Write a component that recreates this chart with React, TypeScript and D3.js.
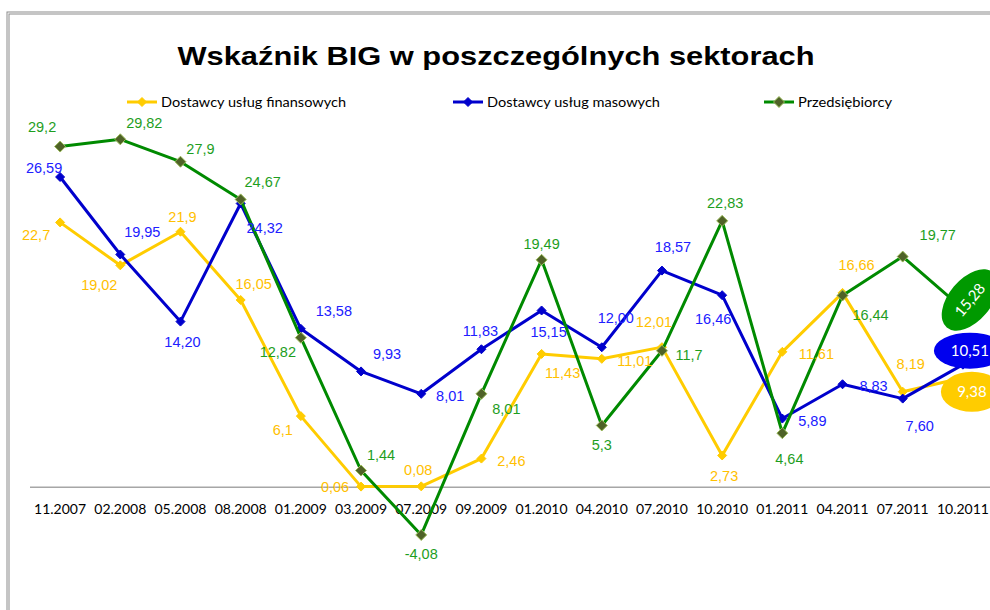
import React from "react";
import * as d3 from "d3";

// ---- Data ----
const categories = [
  "11.2007", "02.2008", "05.2008", "08.2008", "01.2009", "03.2009", "07.2009", "09.2009",
  "01.2010", "04.2010", "07.2010", "10.2010", "01.2011", "04.2011", "07.2011", "10.2011",
];
const finansowych = [22.7, 19.02, 21.9, 16.05, 6.1, 0.06, 0.08, 2.46, 11.43, 11.01, 12.01, 2.73, 11.61, 16.66, 8.19, 9.38];
const masowych = [26.59, 19.95, 14.2, 24.32, 13.58, 9.93, 8.01, 11.83, 15.15, 12.0, 18.57, 16.46, 5.89, 8.83, 7.6, 10.51];
const przedsiebiorcy = [29.2, 29.82, 27.9, 24.67, 12.82, 1.44, -4.08, 8.01, 19.49, 5.3, 11.7, 22.83, 4.64, 16.44, 19.77, 15.28];
const seriesNames = ["Dostawcy usług finansowych", "Dostawcy usług masowych", "Przedsiębiorcy"];
const title = "Wskaźnik BIG w poszczególnych sektorach";

// ---- Layout (label offsets from each point, px) ----
const offFin: [number, number][] = [
  [-24, 13], [-21, 20], [2, -15], [13, -16], [-18, 14], [-26, 0], [-3, -16], [30, 2],
  [21, 19], [33, 2], [-8, -25], [2, 20], [34, 2], [14, -28], [8, -28], [0, 0],
];
const offMas: [number, number][] = [
  [-16, -9], [22, -23], [2, 20], [24, 24], [33, -18], [26, -17], [29, 2], [-1, -18],
  [7, 21], [14, -29], [11, -24], [-9, 24], [30, 2], [31, 2], [17, 27], [0, 0],
];
const offPrz: [number, number][] = [
  [-18, -20], [24, -16], [20, -13], [22, -17], [-23, 14], [20, -16], [0, 19], [25, 15],
  [0, -16], [0, 19], [27, 4], [3, -18], [7, 26], [28, 19], [35, -22], [0, 0],
];

const W = 990, H = 610;
const x = d3.scalePoint<string>().domain(categories).range([30, 993]).padding(0.5);
const y = d3.scaleLinear().domain([-5, 35]).range([545.65, 78.85]);

const fmtGeneral = (v: number) => String(v).replace(".", ",");
const fmtFixed2 = (v: number) => v.toFixed(2).replace(".", ",");

const series = [
  { name: seriesNames[0], values: finansowych, line: "#FFCC00", label: "#FFC000", fill: "#FFCC00", stroke: "#FFCC00", r: 4.5, fmt: fmtGeneral, off: offFin, bubble: { dx: 9, dy: 14, rx: 31, ry: 20, rot: 0, fill: "#FFCC00" } },
  { name: seriesNames[1], values: masowych, line: "#0000CC", label: "#2020FF", fill: "#0000CC", stroke: "#0000CC", r: 4.5, fmt: fmtFixed2, off: offMas, bubble: { dx: 7, dy: -14, rx: 36, ry: 18, rot: 0, fill: "#0000EE" } },
  { name: seriesNames[2], values: przedsiebiorcy, line: "#008A00", label: "#1E9E1E", fill: "#4F6228", stroke: "#9BBB59", r: 5.5, fmt: fmtGeneral, off: offPrz, bubble: { dx: 7, dy: -9, rx: 36, ry: 21, rot: -50, fill: "#009900" } },
];

const diamond = (cx: number, cy: number, r: number) =>
  `M${cx},${cy - r}L${cx + r},${cy}L${cx},${cy + r}L${cx - r},${cy}Z`;

const legendItems = [
  { x0: 127, tx: 161, tw: 185 },
  { x0: 453, tx: 487, tw: 173 },
  { x0: 764, tx: 798, tw: 94 },
];

export default function App() {
  const line = d3
    .line<number>()
    .x((_, i) => x(categories[i]) as number)
    .y((d) => y(d));
  const last = categories.length - 1;

  return (
    <div style={{ position: "fixed", left: 0, top: 0, width: W, height: H, background: "#fff" }}>
      <svg width={W} height={H} style={{ display: "block" }}>
        <rect x={0} y={0} width={W} height={H} fill="#fff" />
        {/* double frame */}
        <rect x={7} y={12} width={W + 20} height={H + 20} fill="none" stroke="#8c8c8c" strokeWidth={1} />
        <rect x={9} y={14} width={W + 20} height={H + 20} fill="none" stroke="#8c8c8c" strokeWidth={1} />

        <text
          x={496}
          y={65}
          textAnchor="middle"
          fontFamily="'Liberation Sans', Arial, sans-serif"
          fontWeight="bold"
          fontSize={26}
          textLength={637}
          lengthAdjust="spacingAndGlyphs"
          fill="#000"
        >
          {title}
        </text>

        {/* legend */}
        {series.map((s, i) => {
          const L = legendItems[i];
          return (
            <g key={"lg" + i}>
              <line x1={L.x0} x2={L.x0 + 30} y1={102} y2={102} stroke={s.line} strokeWidth={3} />
              <path d={diamond(L.x0 + 15, 102, s.r)} fill={s.fill} stroke={s.stroke} strokeWidth={1} />
              <text
                x={L.tx}
                y={106.5}
                fontFamily="Lato, 'Open Sans', sans-serif"
                fontSize={14}
                textLength={L.tw}
                lengthAdjust="spacingAndGlyphs"
                fill="#000"
              >
                {s.name}
              </text>
            </g>
          );
        })}

        {/* zero axis */}
        <line x1={30} x2={W} y1={y(0)} y2={y(0)} stroke="#a6a6a6" strokeWidth={1.5} />
        {categories.map((c) => (
          <text
            key={c}
            x={x(c)}
            y={513.5}
            textAnchor="middle"
            fontFamily="Lato, 'Open Sans', sans-serif"
            fontSize={14}
            fill="#000"
          >
            {c}
          </text>
        ))}

        {/* lines and markers */}
        {series.map((s, si) => (
          <g key={"s" + si}>
            <path d={line(s.values) || ""} fill="none" stroke={s.line} strokeWidth={3} strokeLinejoin="round" />
            {s.values.map((v, i) => (
              <path key={i} d={diamond(x(categories[i]) as number, y(v), s.r)} fill={s.fill} stroke={s.stroke} strokeWidth={1} />
            ))}
          </g>
        ))}

        {/* data labels */}
        {series.map((s, si) => (
          <g key={"l" + si}>
            {s.values.map((v, i) =>
              i === last ? null : (
                <text
                  key={i}
                  x={(x(categories[i]) as number) + s.off[i][0]}
                  y={y(v) + s.off[i][1]}
                  dy="0.35em"
                  textAnchor="middle"
                  fontFamily="'Liberation Sans', Arial, sans-serif"
                  fontSize={14.5}
                  fill={s.label}
                >
                  {s.fmt(v)}
                </text>
              )
            )}
          </g>
        ))}

        {/* highlight bubbles for last values */}
        {series.map((s, si) => {
          const cx = (x(categories[last]) as number) + s.bubble.dx;
          const cy = y(s.values[last]) + s.bubble.dy;
          return (
            <g key={"b" + si} transform={`translate(${cx},${cy}) rotate(${s.bubble.rot})`}>
              <ellipse rx={s.bubble.rx} ry={s.bubble.ry} fill={s.bubble.fill} />
              <text
                x={0}
                y={0}
                dy="0.35em"
                textAnchor="middle"
                fontFamily="Lato, 'Open Sans', sans-serif"
                fontSize={15}
                fill="#fff"
              >
                {s.fmt(s.values[last])}
              </text>
            </g>
          );
        })}
      </svg>
    </div>
  );
}
